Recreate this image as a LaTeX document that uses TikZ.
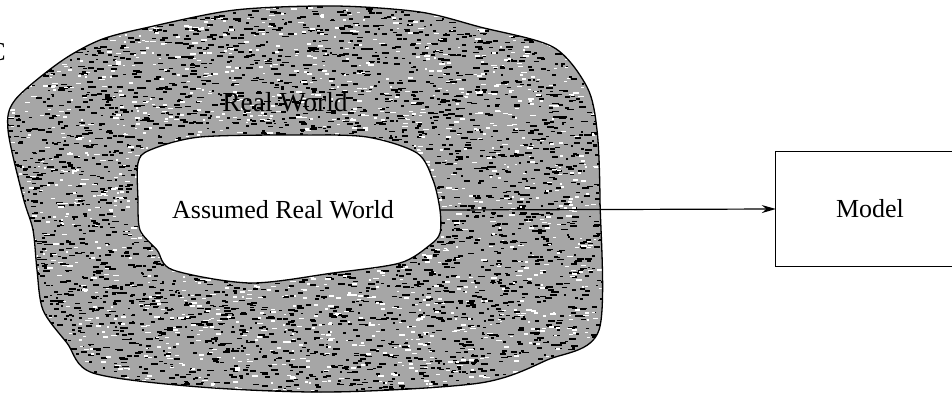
\documentclass[tikz,border=0pt]{standalone}
\usepackage{fontspec}
\setmainfont{Liberation Serif}
\usetikzlibrary{arrows.meta}
\tikzset{every node/.style={font=\fontsize{26}{30}\selectfont}}
\colorlet{worldcol}{black!35}
\colorlet{speckcol}{black}
\colorlet{gapcol}{white}
\colorlet{linecol}{black}

\newcommand{\realworldline}{plot[smooth cycle, tension=0.5] coordinates {
  (145,28) (235,10) (335,6) (420,12) (480,27) (553,47) (587,87) (597,130)
  (600,200) (599,330) (547,360) (480,383) (333,392) (200,387) (93,373)
  (67,343) (43,310) (37,270) (33,230) (23,197) (8,130) (15,100) (60,62)
  (100,40)}}
\newcommand{\assumedline}{plot[smooth cycle, tension=0.5] coordinates {
  (138,163) (150,150) (200,137) (300,135) (367,137) (417,153) (433,180)
  (440,210) (440,233) (430,245) (400,263) (333,273) (250,283) (173,270)
  (157,250) (140,230) (138,200)}}

\begin{document}
\begin{tikzpicture}[x=1pt, y=-1pt, >=Stealth]
  \useasboundingbox (0,0) rectangle (952,394);

  % Real world: grey blob with a speckled texture.
  \fill[worldcol] \realworldline;
  \begin{scope}
    \clip \realworldline;
    \pgfmathsetseed{42}
    \foreach \i in {1,...,4200} {
      \fill[speckcol] ({605*rnd},{396*rnd}) rectangle ++({2+5*rnd},1.7);
    }
    \foreach \i in {1,...,1800} {
      \fill[gapcol] ({605*rnd},{396*rnd}) rectangle ++({2+4*rnd},1.5);
    }
  \end{scope}
  \draw[line width=1.3pt, linecol] \realworldline;

  % Assumed real world: white hole.
  \draw[line width=1.3pt, linecol, fill=white] \assumedline;

  % Labels.
  \node (cut) [anchor=east, inner sep=0pt] at (6,52) {C};
  \node (rw) [font=\fontsize{27.5}{32}\selectfont] at (285,102) {Real World};
  \node (arw) at (283,210) {Assumed Real World};
  \coordinate (arwedge) at (440,210);

  % Model box, open beyond the right edge.
  \node (model) [minimum width=188pt, minimum height=114pt,
    inner sep=0pt] at (870,209) {Model};
  \draw[line width=1pt, linecol] (model.north east) -- (model.north west)
    -- (model.south west) -- (model.south east);

  % Arrow.
  \draw[-{Stealth[length=14pt, width=8pt]}, line width=1.2pt]
    (arwedge) -- (model.west);

\end{tikzpicture}
\end{document}
